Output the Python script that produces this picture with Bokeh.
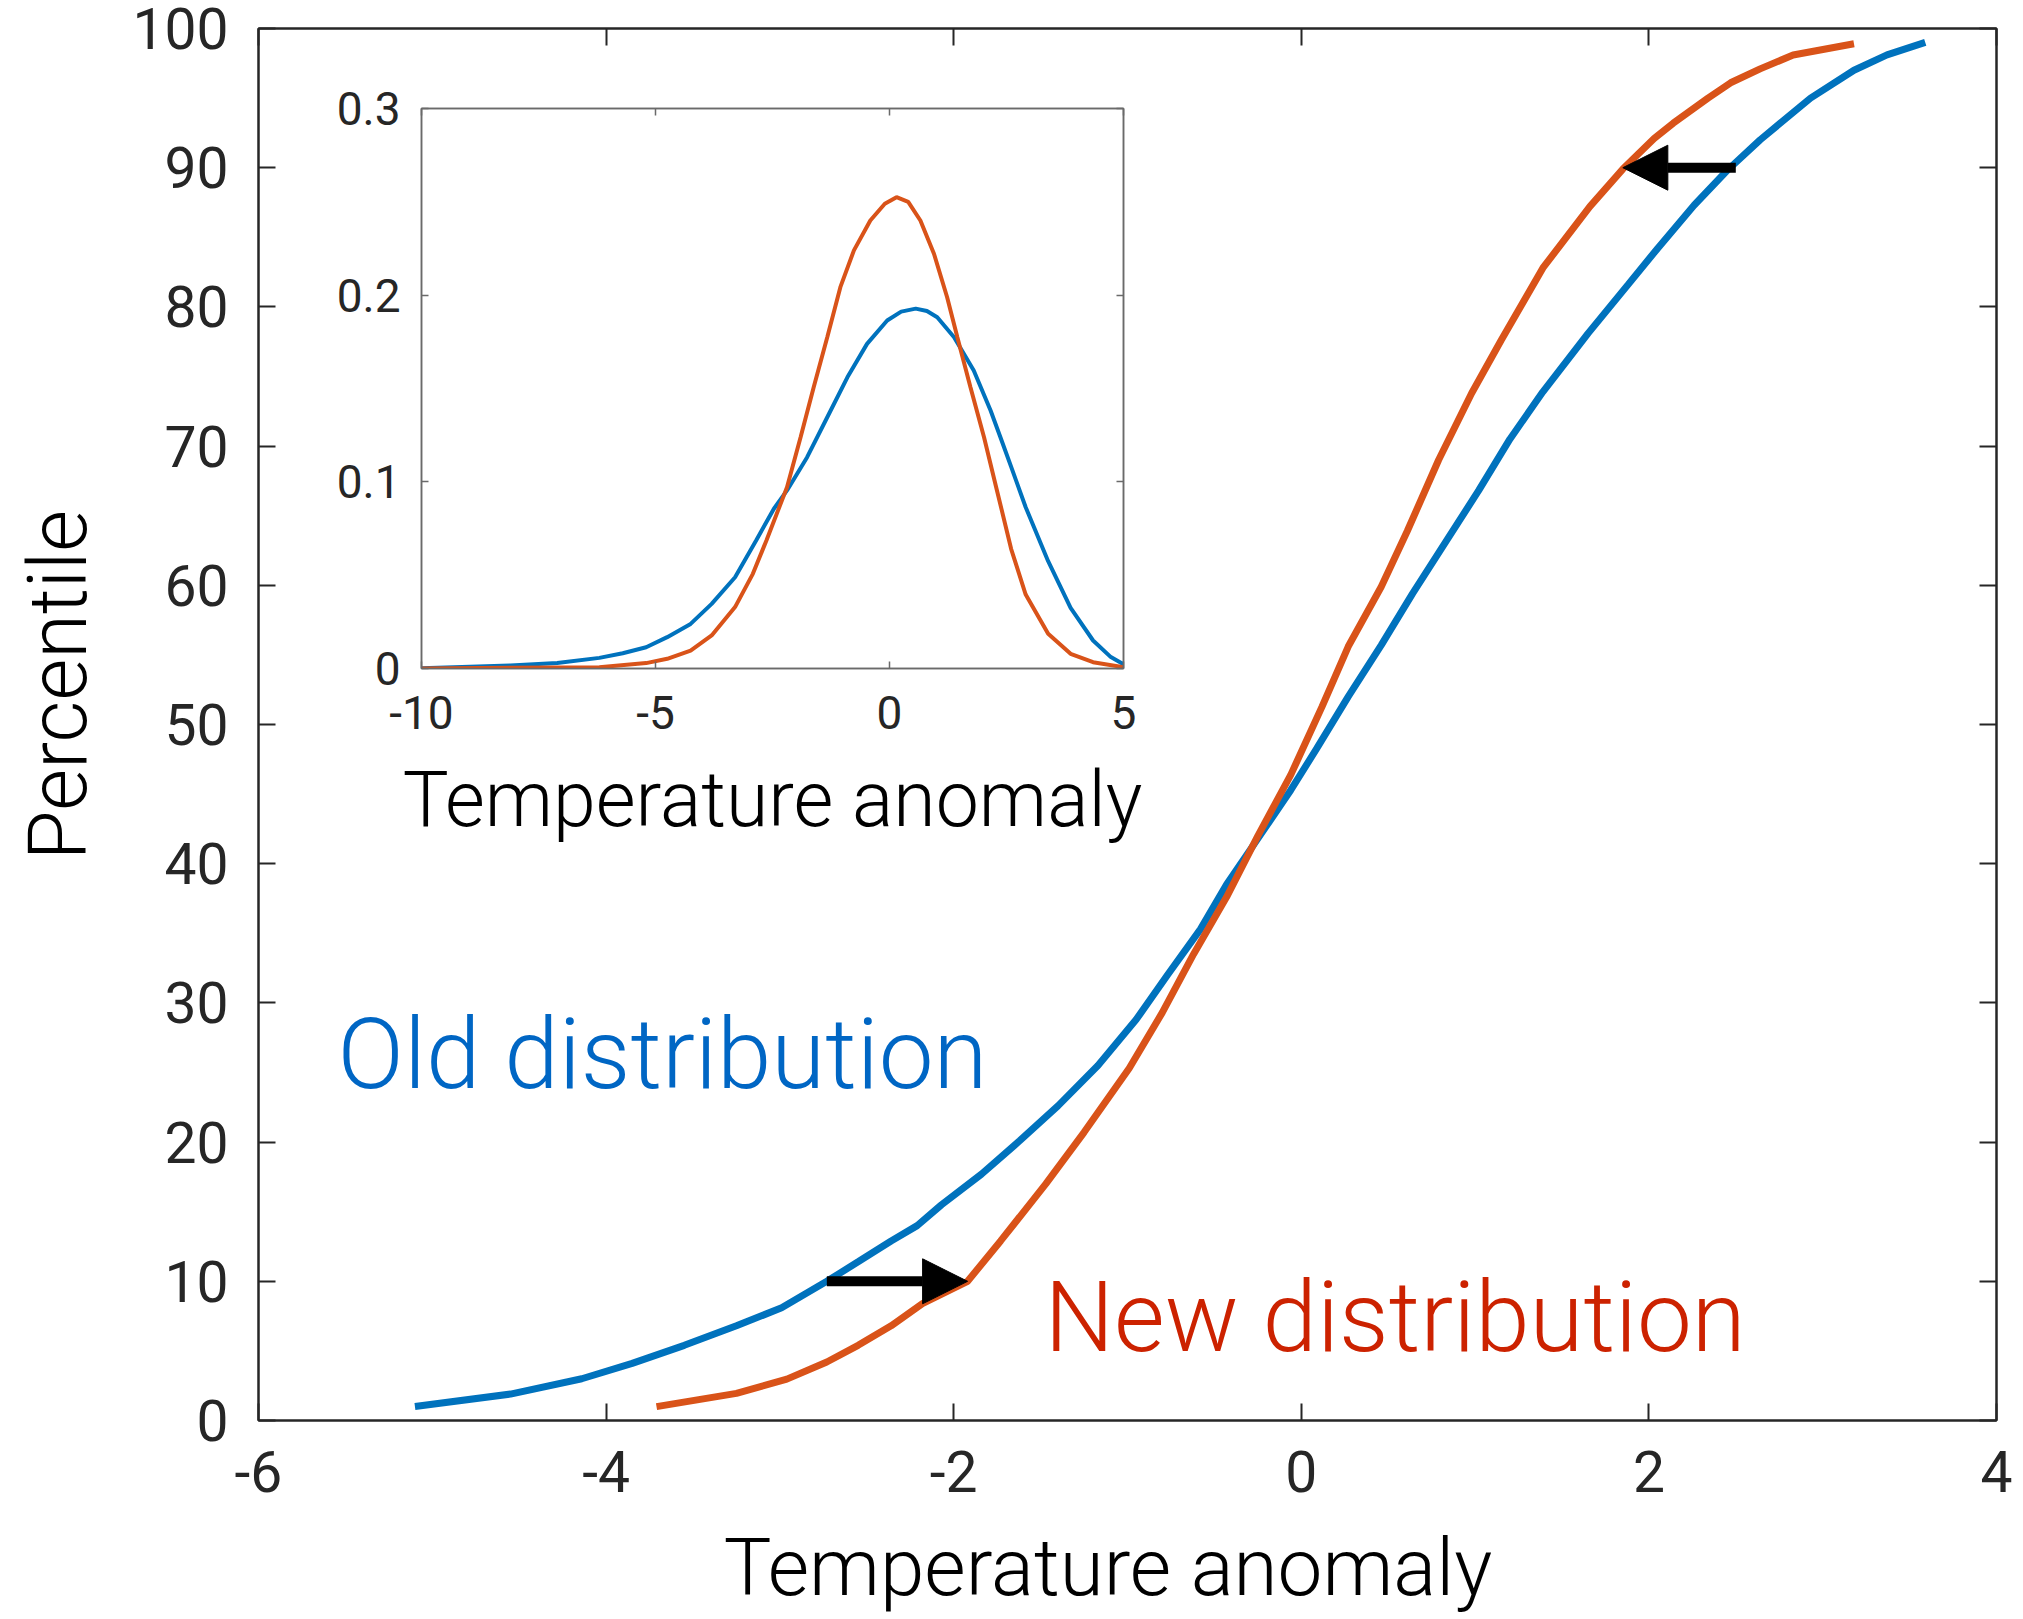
from bokeh.plotting import figure
from bokeh.models import (GridBox, LinearAxis, FixedTicker, Arrow, NormalHead,
                          ColumnDataSource)
from bokeh.core.properties import value
from bokeh.embed import file_html
from bokeh.resources import INLINE

# ---------------- data ----------------
old_x = [-5.1, -4.55, -4.14, -3.85, -3.55, -3.25, -2.99, -2.73, -2.55, -2.36, -2.21,
         -2.07, -1.84, -1.62, -1.40, -1.17, -0.95, -0.77, -0.58, -0.43, -0.25, -0.06,
         0.09, 0.27, 0.46, 0.64, 0.83, 1.02, 1.20, 1.39, 1.65, 1.88, 2.05, 2.26, 2.45,
         2.64, 2.93, 3.18, 3.37, 3.59]
old_y = [1.0, 1.9, 3.0, 4.1, 5.4, 6.8, 8.1, 10.0, 11.4, 12.9, 14.0,
         15.5, 17.7, 20.1, 22.6, 25.5, 28.8, 32.0, 35.3, 38.5, 41.8, 45.3,
         48.3, 52.0, 55.7, 59.4, 63.1, 66.8, 70.5, 73.9, 78.1, 81.6, 84.2, 87.3, 89.8,
         92.0, 95.0, 97.0, 98.1, 99.0]

new_x = [-3.71, -3.25, -2.96, -2.73, -2.55, -2.36, -2.18, -1.92, -1.73, -1.47, -1.25,
         -0.99, -0.80, -0.62, -0.43, -0.25, -0.06, 0.12, 0.27, 0.46, 0.61, 0.79, 0.98,
         1.15, 1.39, 1.66, 1.85, 2.03, 2.14, 2.34, 2.47, 2.64, 2.83, 3.18]
new_y = [1.0, 1.95, 2.97, 4.2, 5.4, 6.8, 8.4, 10.0, 12.9, 17.0, 20.7,
         25.3, 29.3, 33.5, 37.6, 42.0, 46.4, 51.3, 55.6, 59.9, 63.9, 69.0, 73.8,
         77.6, 82.8, 87.2, 89.9, 92.1, 93.2, 95.0, 96.1, 97.1, 98.1, 98.9]

# inset: probability density
pdf_old_x = [-10.0, -8.1, -7.1, -6.2, -5.7, -5.2, -4.75, -4.25, -3.8, -3.3, -2.85,
             -2.47, -2.19, -1.76, -1.33, -0.90, -0.48, -0.05, 0.25, 0.56, 0.80, 1.02,
             1.38, 1.80, 2.16, 2.37, 2.6, 2.91, 3.39, 3.87, 4.35, 4.73, 5.0]
pdf_old_y = [0.0002, 0.0016, 0.0029, 0.0057, 0.0082, 0.0114, 0.0168, 0.0239, 0.0346, 0.0489, 0.0686,
             0.0856, 0.0954, 0.1132, 0.1346, 0.156, 0.1739, 0.1864, 0.1912, 0.1928, 0.1915, 0.1882,
             0.1775, 0.1596, 0.1382, 0.1239, 0.108, 0.0864, 0.0575, 0.0325, 0.0150, 0.0061, 0.0023]

pdf_new_x = [-10.0, -6.2, -5.2, -4.75, -4.25, -3.8, -3.3, -2.92, -2.63, -2.19, -1.90,
             -1.62, -1.33, -1.05, -0.76, -0.41, -0.1, 0.15, 0.40, 0.66, 0.95, 1.23,
             1.45, 1.73, 2.02, 2.30, 2.6, 2.91, 3.39, 3.87, 4.35, 5.0]
pdf_new_y = [0.0, 0.0007, 0.0029, 0.0052, 0.0096, 0.0177, 0.0329, 0.0507, 0.0686, 0.0971, 0.1239,
             0.1507, 0.1775, 0.2043, 0.224, 0.240, 0.249, 0.2525, 0.250, 0.240, 0.2222, 0.199,
             0.1775, 0.1507, 0.1239, 0.095, 0.064, 0.0396, 0.0186, 0.0079, 0.0034, 0.0007]

x_ticks = [-6, -4, -2, 0, 2, 4]
x_tick_labels = ["-6", "-4", "-2", "0", "2", "4"]
y_ticks = [0, 10, 20, 30, 40, 50, 60, 70, 80, 90, 100]
y_tick_labels = ["0", "10", "20", "30", "40", "50", "60", "70", "80", "90", "100"]
inset_x_ticks = [-10, -5, 0, 5]
inset_x_tick_labels = ["-10", "-5", "0", "5"]
inset_y_ticks = [0, 0.1, 0.2, 0.3]
inset_y_tick_labels = ["0", "0.1", "0.2", "0.3"]

arrow_x_start = [-2.73, 2.50]
arrow_x_end = [-1.92, 1.85]
arrow_y = [10, 90]

label_text = ["Old distribution", "New distribution"]
label_x = [-5.545, -1.478]
label_y = [26.3, 7.4]

NBSP = "\u00a0"
x_title = "Temperature anomaly"
y_title = "Percentile"

# ---------------- styles ----------------
BLUE = "#0072BD"
ORANGE = "#D95319"
AX = "#262626"
TICK_FONT = "Roboto"
FONT = "Roboto Light, Roboto"

# shared borders (plots in one grid cell get aligned borders)
BL, BR, BT, BB = 258, 27, 28, 198

# ---------------- main figure ----------------
p = figure(width=2023, height=1420 + BB, x_range=(-6, 4), y_range=(0, 100),
           output_backend="svg", toolbar_location=None,
           min_border_left=BL, min_border_right=BR, min_border_top=BT,
           min_border_bottom=BB)
p.grid.visible = False
p.outline_line_color = AX
p.outline_line_width = 2
p.background_fill_color = "white"


def style_axis(ax, ticks, labels, tick_len, lw, color, font_size, standoff, hidden=False):
    ax.ticker = FixedTicker(ticks=ticks)
    ax.major_label_overrides = {t: s for t, s in zip(ticks, labels)}
    ax.axis_line_color = color
    ax.axis_line_width = lw
    ax.major_tick_line_color = color
    ax.major_tick_line_width = lw
    ax.major_tick_in = tick_len
    ax.major_tick_out = 0
    ax.minor_tick_line_color = None
    ax.major_label_text_font = TICK_FONT
    ax.major_label_text_color = AX
    if hidden:
        ax.major_label_text_font_size = "1px"
        ax.major_label_text_alpha = 0
        ax.major_label_standoff = 0
    else:
        ax.major_label_text_font_size = font_size
        ax.major_label_standoff = standoff


def style_title(ax, text, size, standoff):
    ax.axis_label = text
    ax.axis_label_text_font = FONT
    ax.axis_label_text_font_size = size
    ax.axis_label_text_font_style = "normal"
    ax.axis_label_text_color = "black"
    ax.axis_label_standoff = standoff


style_axis(p.xaxis[0], x_ticks, x_tick_labels, 17, 2, AX, "57px", 30)
style_axis(p.yaxis[0], y_ticks, y_tick_labels, 17, 2, AX, "57px", 30)
# non-breaking spaces nudge the titles off-centre as in the original
style_title(p.xaxis[0], x_title + NBSP * 2, "80px", 26)
style_title(p.yaxis[0], NBSP * 4 + y_title, "81px", 23)

top_ax = LinearAxis()
style_axis(top_ax, x_ticks, x_tick_labels, 17, 2, AX, "1px", 0, hidden=True)
p.add_layout(top_ax, "above")
right_ax = LinearAxis()
style_axis(right_ax, y_ticks, y_tick_labels, 17, 2, AX, "1px", 0, hidden=True)
p.add_layout(right_ax, "right")

p.line(old_x, old_y, line_color=BLUE, line_width=7)
p.line(new_x, new_y, line_color=ORANGE, line_width=7)

arrows = ColumnDataSource(dict(x0=arrow_x_start, x1=arrow_x_end, y=arrow_y))
p.add_layout(Arrow(source=arrows, x_start="x0", y_start="y", x_end="x1", y_end="y",
                   line_width=10, line_color="black",
                   end=NormalHead(size=45, fill_color="black", line_color="black",
                                  line_width=1)))

p.text(x=[label_x[0]], y=[label_y[0]], text=[label_text[0]],
       text_font=value(FONT), text_font_size="98px", text_color="#0066C4",
       text_align="left", text_baseline="alphabetic")
p.text(x=[label_x[1]], y=[label_y[1]], text=[label_text[1]],
       text_font=value(FONT), text_font_size="98px", text_color="#CC2200",
       text_align="left", text_baseline="alphabetic")

# ---------------- inset figure ----------------
IAX = "#6a6a6a"
inset = figure(width=BL + 702 + BR, height=BT + 560 + BB, x_range=(-10, 5), y_range=(0, 0.3),
               output_backend="svg", toolbar_location=None,
               min_border_left=BL, min_border_right=BR, min_border_top=BT,
               min_border_bottom=BB, margin=(80, 0, 0, 163))
inset.grid.visible = False
inset.outline_line_color = IAX
inset.outline_line_width = 1.5
inset.background_fill_color = "white"
inset.border_fill_alpha = 0

style_axis(inset.xaxis[0], inset_x_ticks, inset_x_tick_labels, 7, 1.5, IAX, "46px", 27)
style_axis(inset.yaxis[0], inset_y_ticks, inset_y_tick_labels, 7, 1.5, IAX, "46px", 21)
style_title(inset.xaxis[0], x_title, "77px", 23)

itop = LinearAxis()
style_axis(itop, inset_x_ticks, inset_x_tick_labels, 7, 1.5, IAX, "1px", 0, hidden=True)
inset.add_layout(itop, "above")
iright = LinearAxis()
style_axis(iright, inset_y_ticks, inset_y_tick_labels, 7, 1.5, IAX, "1px", 0, hidden=True)
inset.add_layout(iright, "right")

inset.line(pdf_old_x, pdf_old_y, line_color=BLUE, line_width=4)
inset.line(pdf_new_x, pdf_new_y, line_color=ORANGE, line_width=4)

layout = GridBox(children=[(p, 0, 0), (inset, 0, 0)])

open("out.html", "w").write(file_html(layout, INLINE))
